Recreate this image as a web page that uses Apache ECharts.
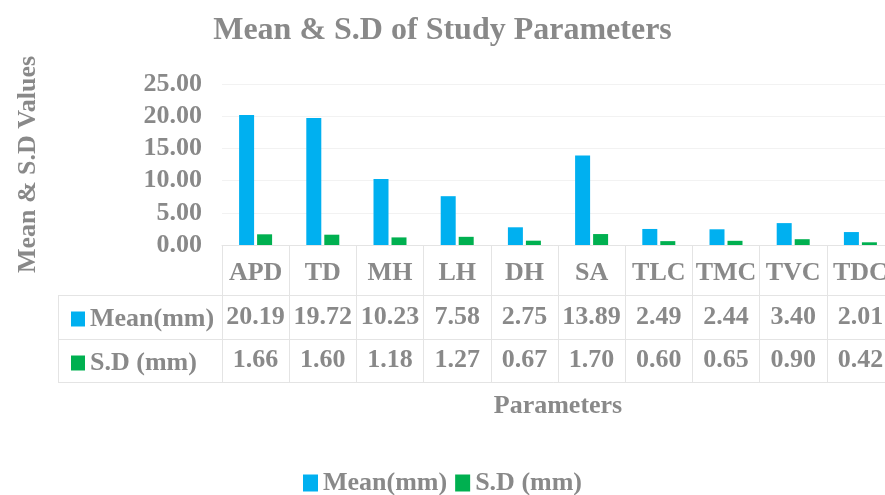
<!DOCTYPE html>
<html>
<head>
<meta charset="utf-8">
<script src="https://cdn.jsdelivr.net/npm/echarts@6/dist/echarts.min.js"></script>
<style>html,body{margin:0;padding:0;background:#fff}#c{width:885px;height:495px}</style>
</head>
<body>
<div id="c"></div>
<script>
var categories = ['APD','TD','MH','LH','DH','SA','TLC','TMC','TVC','TDC'];
var meanValues = [20.19, 19.72, 10.23, 7.58, 2.75, 13.89, 2.49, 2.44, 3.40, 2.01];
var sdValues = [1.66, 1.60, 1.18, 1.27, 0.67, 1.70, 0.60, 0.65, 0.90, 0.42];
var seriesNames = ['Mean(mm)', 'S.D (mm)'];
var yTicks = [0, 5, 10, 15, 20, 25];

var FONT = '"Liberation Serif", "Times New Roman", serif';
var GREY = '#898989';
var LINE = '#e4e4e4';
var BLUE = '#00B0F0';
var GREEN = '#00B050';

var G = {left: 222, top: 84, width: 672, height: 161};
var axisY = G.top + G.height;          // 245
var rowLines = [50, 94, 137];           // offsets of table row lines below axis
var headerLeft = 58;

var txt = {fontFamily: FONT, fontWeight: 'bold', fontSize: 26, color: GREY};

var chart = echarts.init(document.getElementById('c'), null, {renderer: 'canvas'});

var graphics = [];
rowLines.forEach(function (o) {
  graphics.push({type: 'line', shape: {x1: headerLeft, y1: axisY + o + 0.5, x2: G.left, y2: axisY + o + 0.5},
    style: {stroke: LINE, lineWidth: 1}, silent: true});
});
graphics.push({type: 'line', shape: {x1: headerLeft + 0.5, y1: axisY + rowLines[0], x2: headerLeft + 0.5, y2: axisY + rowLines[2]},
  style: {stroke: LINE, lineWidth: 1}, silent: true});

chart.setOption({
  animation: false,
  backgroundColor: '#fff',
  title: {
    text: 'Mean & S.D of Study Parameters',
    left: 'center', top: 10,
    textStyle: {fontFamily: FONT, fontWeight: 'bold', fontSize: 32, color: GREY}
  },
  grid: {left: G.left, top: G.top, width: G.width, height: G.height, containLabel: false, outerBoundsMode: 'none'},
  legend: [{
    data: seriesNames,
    bottom: -6, left: 'center',
    itemWidth: 15, itemHeight: 17, itemGap: 8,
    icon: 'rect',
    selectedMode: false,
    textStyle: txt
  }, {
    data: seriesNames,
    orient: 'vertical',
    left: 66, top: axisY + rowLines[0] - 3,
    itemWidth: 14, itemHeight: 15, itemGap: 0,
    icon: 'rect',
    selectedMode: false,
    textStyle: Object.assign({}, txt, {lineHeight: 44})
  }],
  xAxis: [{
    type: 'category', data: categories, gridIndex: 0,
    name: 'Parameters', nameLocation: 'middle', nameGap: 148,
    nameTextStyle: txt,
    axisLine: {show: true, lineStyle: {color: LINE}},
    axisTick: {show: true, length: rowLines[2], interval: 0, lineStyle: {color: LINE}},
    axisLabel: Object.assign({}, txt, {margin: 15, interval: 0}),
    splitLine: {show: false}
  }, {
    type: 'category', data: categories, gridIndex: 0, position: 'bottom', offset: rowLines[0],
    axisLine: {show: true, lineStyle: {color: LINE}},
    axisTick: {show: false},
    axisLabel: Object.assign({}, txt, {margin: 9, interval: 0,
      formatter: function (v, i) { return meanValues[i].toFixed(2); }})
  }, {
    type: 'category', data: categories, gridIndex: 0, position: 'bottom', offset: rowLines[1],
    axisLine: {show: true, lineStyle: {color: LINE}},
    axisTick: {show: false},
    axisLabel: Object.assign({}, txt, {margin: 8, interval: 0,
      formatter: function (v, i) { return sdValues[i].toFixed(2); }})
  }, {
    type: 'category', data: categories, gridIndex: 0, position: 'bottom', offset: rowLines[2],
    axisLine: {show: true, lineStyle: {color: LINE}},
    axisTick: {show: false},
    axisLabel: {show: false}
  }],
  yAxis: {
    type: 'value', min: yTicks[0], max: yTicks[yTicks.length - 1], interval: 5,
    name: 'Mean & S.D Values', nameLocation: 'middle', nameGap: 181, nameRotate: 90,
    nameTextStyle: txt,
    axisLine: {show: false}, axisTick: {show: false},
    axisLabel: Object.assign({}, txt, {margin: 20, formatter: function (v) { return v.toFixed(2); }}),
    splitLine: {show: true, lineStyle: {color: '#f2f2f2'}}
  },
  series: [{
    name: seriesNames[0], type: 'bar', data: meanValues, xAxisIndex: 0,
    barWidth: 15, barGap: '20%', itemStyle: {color: BLUE}
  }, {
    name: seriesNames[1], type: 'bar', data: sdValues, xAxisIndex: 0,
    barWidth: 15, barGap: '20%', itemStyle: {color: GREEN}
  }],
  graphic: graphics
});
</script>
</body>
</html>
